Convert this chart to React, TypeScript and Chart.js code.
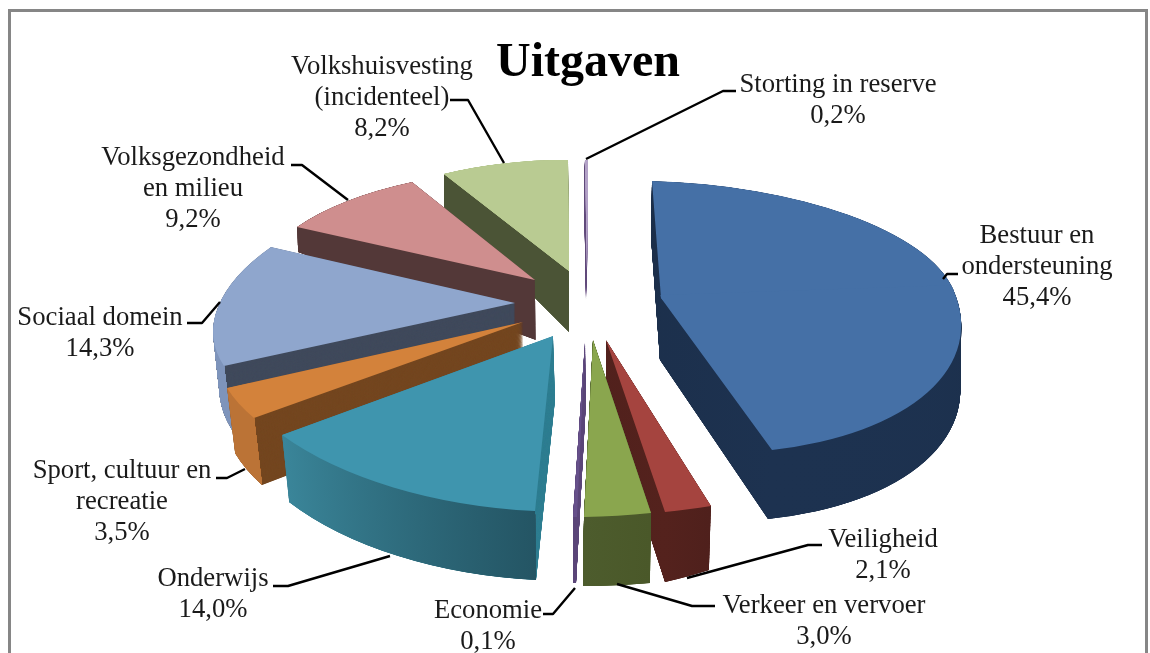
import React, { useEffect, useRef } from "react";
import { Chart, registerables } from "chart.js";

Chart.register(...registerables);

const titleText = "Uitgaven";
const categories = ["Bestuur en ondersteuning", "Veiligheid", "Verkeer en vervoer", "Economie", "Onderwijs", "Sport, cultuur en recreatie", "Sociaal domein", "Volksgezondheid en milieu", "Volkshuisvesting (incidenteel)", "Storting in reserve"];
const values = [45.4, 2.1, 3.0, 0.1, 14.0, 3.5, 14.3, 9.2, 8.2, 0.2];
const valueLabels = ["45,4%", "2,1%", "3,0%", "0,1%", "14,0%", "3,5%", "14,3%", "9,2%", "8,2%", "0,2%"];
const labelLines = [
  ["Bestuur en", "ondersteuning"], ["Veiligheid"], ["Verkeer en vervoer"], ["Economie"], ["Onderwijs"],
  ["Sport, cultuur en", "recreatie"], ["Sociaal domein"], ["Volksgezondheid", "en milieu"], ["Volkshuisvesting", "(incidenteel)"], ["Storting in reserve"],
];

const topColors = ["#4570a6", "#a5443f", "#8aa64e", "#66508a", "#3f95ae", "#d3823b", "#8fa6cd", "#cf8e8e", "#b9cb92", "#b3a2c7"];
const sideColors = ["#1b2e49", "#4f201c", "#4b5a2b", "#5a4578", "#307f92", "#744720", "#404a5c", "#533838", "#4b5436", "#60497a"];
const rimStartColors = ["#1b2e49", "#4f201c", "#4a5829", "#5a4578", "#245564", "#bb7336", "#7e94bb", "#533838", "#4b5436", "#60497a"];
const rimEndColors = ["#1d3250", "#54221d", "#4d5c2d", "#5a4578", "#3a8599", "#bb7336", "#7e94bb", "#533838", "#4b5436", "#60497a"];
const splitRim = [false, false, false, false, true, true, true, false, false, false];
const topPasses = [1, 1, 1, 1, 1, 1, 1, 1, 4, 4];
const paintOrder = [9, 8, 7, 6, 5, 0, 1, 3, 2, 4];

type P = number[];
const solids: { apex: P; apexB: P; knots: { t: number; top: P; bot: P }[] }[] = [
  { apex: [661, 298], apexB: [660, 360], knots: [{ t: 0, top: [652, 181], bot: [651, 237] }, { t: 0.5, top: [953, 289], bot: [953, 354] }, { t: 1, top: [772, 450], bot: [768, 519] }] },
  { apex: [606, 340], apexB: [606, 400], knots: [{ t: 0, top: [711, 506], bot: [709, 570] }, { t: 1, top: [665, 512], bot: [665, 582] }] },
  { apex: [593, 340], apexB: [593, 400], knots: [{ t: 0, top: [651, 513], bot: [650, 583] }, { t: 1, top: [584, 517], bot: [583, 586] }] },
  { apex: [585, 342], apexB: [586, 400], knots: [{ t: 0, top: [577, 517], bot: [576, 583] }, { t: 1, top: [573, 517], bot: [573, 583] }] },
  { apex: [553, 336], apexB: [555, 400], knots: [{ t: 0, top: [535, 511], bot: [536, 580] }, { t: 1, top: [282, 435], bot: [289, 502] }] },
  { apex: [523, 322], apexB: [524, 385], knots: [{ t: 0, top: [254, 418], bot: [262, 485] }, { t: 1, top: [227, 388], bot: [235, 453] }] },
  { apex: [515, 303], apexB: [515, 365], knots: [{ t: 0, top: [224, 366], bot: [232, 430] }, { t: 1, top: [271, 247], bot: [272, 300] }] },
  { apex: [535, 280], apexB: [536, 340], knots: [{ t: 0, top: [297, 227], bot: [298, 252] }, { t: 1, top: [412, 182], bot: [412, 215] }] },
  { apex: [569, 271], apexB: [569, 332], knots: [{ t: 0, top: [444, 174], bot: [444, 207] }, { t: 1, top: [568, 160], bot: [562, 195] }] },
  { apex: [587, 270], apexB: [586, 300], knots: [{ t: 0, top: [585, 160], bot: [584, 190] }, { t: 1, top: [588, 160], bot: [585, 190] }] },
];

const labelCenters = [[1037, 234], [883, 538], [824, 604], [488, 609], [213, 577], [122, 469], [100, 316], [193, 156], [382, 65], [838, 83]];
const leaders = [
  [[943, 279], [947, 274], [958, 274]],
  [[687, 578], [808, 545], [822, 545]],
  [[617, 584], [692, 606], [715, 606]],
  [[575, 588], [553, 614], [543, 614]],
  [[390, 556], [288, 586], [273, 586]],
  [[245, 469], [227, 478], [216, 478]],
  [[220, 302], [202, 323], [187, 323]],
  [[348, 200], [302, 165], [291, 165]],
  [[504, 163], [468, 100], [450, 100]],
  [[586, 159], [723, 91], [736, 91]],
];

const FONT = '"Liberation Serif", "Times New Roman", serif';

function solve(a: P, pi: P, pj: P, ti: number, tj: number) {
  const ix = Math.cos(ti), iy = Math.sin(ti), jx = Math.cos(tj), jy = Math.sin(tj);
  const det = ix * jy - iy * jx;
  const vx = pi[0] - a[0], vy = pi[1] - a[1], wx = pj[0] - a[0], wy = pj[1] - a[1];
  return [(vx * jy - wx * iy) / det, (vy * jy - wy * iy) / det, (ix * wx - jx * vx) / det, (ix * wy - jx * vy) / det];
}

const solidPlugin = {
  id: "solidPie",
  beforeDatasetsDraw(chart: any) {
    const ctx: CanvasRenderingContext2D = chart.ctx;
    const arcs = chart.getDatasetMeta(0).data;
    ctx.save();
    ctx.strokeStyle = "#868686";
    ctx.lineWidth = 3;
    ctx.strokeRect(9.5, 10.5, 1137, 700);
    ctx.restore();

    paintOrder.forEach((i) => {
      const el = arcs[i];
      const s = solids[i];
      const R = el.outerRadius, cx = el.x, cy = el.y;
      const a0 = el.startAngle, a1 = el.endAngle;
      const ang = (t: number) => a0 + (a1 - a0) * t;
      const orig = el.options;
      const setFill = (c: any) => { el.options = Object.create(orig, { backgroundColor: { value: c } }); };

      const drawFace = (f: number) => {
        const apex = [s.apexB[0] + (s.apex[0] - s.apexB[0]) * f, s.apexB[1] + (s.apex[1] - s.apexB[1]) * f];
        for (let k = 0; k < s.knots.length - 1; k++) {
          const A = s.knots[k], B = s.knots[k + 1];
          const pa = [A.bot[0] + (A.top[0] - A.bot[0]) * f, A.bot[1] + (A.top[1] - A.bot[1]) * f];
          const pb = [B.bot[0] + (B.top[0] - B.bot[0]) * f, B.bot[1] + (B.top[1] - B.bot[1]) * f];
          const ti = ang(A.t), tj = ang(B.t);
          const m = solve(apex, pa, pb, ti, tj);
          ctx.save();
          ctx.transform(m[0], m[1], m[2], m[3], apex[0], apex[1]);
          ctx.scale(1 / R, 1 / R);
          ctx.translate(-cx, -cy);
          if (s.knots.length > 2) {
            const e = 0.012, big = R * 3, back = R * 0.03;
            const tm = (ti + tj) / 2;
            ctx.beginPath();
            ctx.moveTo(cx - back * Math.cos(tm), cy - back * Math.sin(tm));
            ctx.lineTo(cx + big * Math.cos(ti - e), cy + big * Math.sin(ti - e));
            ctx.lineTo(cx + big * Math.cos(tm), cy + big * Math.sin(tm));
            ctx.lineTo(cx + big * Math.cos(tj + e), cy + big * Math.sin(tj + e));
            ctx.closePath();
            ctx.clip();
          }
          el.draw(ctx);
          ctx.restore();
        }
      };

      const first = s.knots[0];
      const depth = Math.max(...s.knots.map((k) => k.bot[1] - k.top[1]), s.apexB[1] - s.apex[1]);
      const steps = Math.ceil(depth * 3);
      const extrude = () => { for (let n = 0; n < steps; n++) drawFace(n / steps); };

      setFill(sideColors[i]);
      extrude();

      const grad = ctx.createLinearGradient(cx + R * Math.cos(a0), cy + R * Math.sin(a0), cx + R * Math.cos(a1), cy + R * Math.sin(a1));
      grad.addColorStop(0, rimStartColors[i]);
      grad.addColorStop(1, rimEndColors[i]);
      setFill(grad);
      if (splitRim[i]) {
        const dx = first.bot[0] - first.top[0], dy = first.bot[1] - first.top[1];
        ctx.save();
        ctx.beginPath();
        ctx.moveTo(first.top[0] - dx * 20, first.top[1] - dy * 20);
        ctx.lineTo(first.bot[0] + dx * 20, first.bot[1] + dy * 20);
        ctx.lineTo(-1000, first.bot[1] + dy * 20);
        ctx.lineTo(-1000, first.top[1] - dy * 20);
        ctx.closePath();
        ctx.clip();
        extrude();
        ctx.restore();
      } else {
        extrude();
      }

      setFill(topColors[i]);
      for (let p = 0; p < topPasses[i]; p++) drawFace(1);
      el.options = orig;
    });

    ctx.save();
    ctx.strokeStyle = "#000000";
    ctx.lineWidth = 2.4;
    ctx.lineJoin = "round";
    leaders.forEach((pts) => {
      ctx.beginPath();
      pts.forEach((p, n) => (n ? ctx.lineTo(p[0], p[1]) : ctx.moveTo(p[0], p[1])));
      ctx.stroke();
    });
    ctx.fillStyle = "#1a1a1a";
    ctx.font = `26.7px ${FONT}`;
    ctx.textAlign = "center";
    ctx.textBaseline = "middle";
    categories.forEach((_, i) => {
      const lines = [...labelLines[i], valueLabels[i]];
      lines.forEach((t, n) => ctx.fillText(t, labelCenters[i][0], labelCenters[i][1] + 1.5 + n * 31));
    });
    ctx.restore();
    return false;
  },
};

export default function App() {
  const ref = useRef<HTMLCanvasElement>(null);
  useEffect(() => {
    const chart = new Chart(ref.current!, {
      type: "pie",
      data: {
        labels: categories,
        datasets: [{ data: values, backgroundColor: topColors, borderWidth: 0 }],
      },
      options: {
        animation: false,
        responsive: false,
        layout: { padding: { left: 26 } },
        plugins: {
          legend: { display: false },
          tooltip: { enabled: false },
          title: {
            display: true,
            text: titleText,
            fullSize: false,
            color: "#000000",
            font: { family: FONT, size: 48, weight: "bold" },
            padding: { top: 35, bottom: 4 },
          },
        },
      },
      plugins: [solidPlugin],
    } as any);
    return () => chart.destroy();
  }, []);
  return (
    <div style={{ position: "absolute", left: 0, top: 0, width: 1150, height: 653, background: "#ffffff", overflow: "hidden" }}>
      <canvas ref={ref} width={1150} height={653} style={{ display: "block" }} />
    </div>
  );
}
